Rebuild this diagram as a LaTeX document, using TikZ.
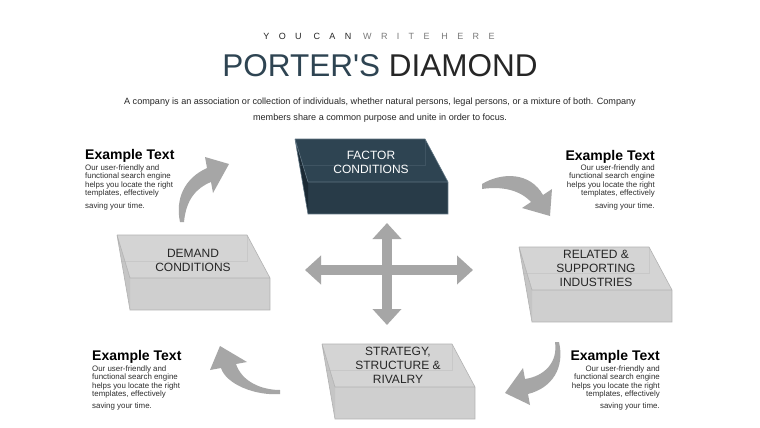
\documentclass[tikz,border=0pt]{standalone}
\usepackage{fontspec}
\setmainfont{Liberation Sans}
\newfontfamily\titlefont{Liberation Sans}
\usetikzlibrary{arrows.meta}

\definecolor{slate}{HTML}{2E4452}
\definecolor{slatefront}{HTML}{283B48}
\definecolor{slateside}{HTML}{1B2A35}
\definecolor{slateedge}{HTML}{5F7482}
\definecolor{boxtop}{HTML}{D4D4D4}
\definecolor{boxfront}{HTML}{CFCFCF}
\definecolor{boxside}{HTML}{C5C5C5}
\definecolor{boxedge}{HTML}{B2B2B2}
\definecolor{arrowgray}{HTML}{A6A6A6}
\definecolor{ink}{HTML}{262626}
\definecolor{midgray}{HTML}{7A7A7A}
\definecolor{blurbgray}{HTML}{2E2E2E}

% slab: back top corner x, y, top, front, side, edge colour
\newcommand{\slab}[6]{%
  \begin{scope}[shift={(#1,#2)}]
    \fill[#3] (0,0) -- (130,0) -- (153,43) -- (13,43) -- cycle;
    \fill[#4] (13,43) rectangle (153,75);
    \fill[#5] (0,0) -- (13,43) -- (13,75) -- cycle;
    \draw[#6, line width=0.6pt] (0,0) -- (130,0) -- (153,43) -- (153,75) -- (13,75) -- (0,0) -- (13,43) -- (153,43);
    \draw[#6, line width=0.5pt, opacity=0.35] (4,26) -- (130,26) -- (130,0);
  \end{scope}}

\begin{document}
\begin{tikzpicture}[x=1pt, y=-1pt,
  heading/.style={font=\fontsize{14}{16}\selectfont\bfseries, text=black, inner sep=0pt},
  blurb/.style={font=\fontsize{7.9}{8.4}\selectfont, text=blurbgray, inner sep=0pt},
  boxtext/.style={font=\fontsize{12}{14}\selectfont, align=center, inner sep=0pt},
  cross/.style={draw=arrowgray, line width=9.5pt,
    {Triangle[width=28pt,length=16pt]}-{Triangle[width=28pt,length=16pt]}},
  swoosh/.style={fill=arrowgray}]

\useasboundingbox[fill=white] (0,0) rectangle (760,428);

%TITLE
\node[font=\fontsize{9}{10}\selectfont\addfontfeature{LetterSpace=104}, anchor=base] (kicker) at (379,39.5)
  {\textcolor{ink}{YOU CAN} \textcolor{midgray}{WRITE HERE}};
\node[font=\titlefont\fontsize{31.5}{34}\selectfont, anchor=base, inner sep=0pt] (title) at (380,77)
  {\textcolor{slate}{PORTER'S} \textcolor{ink}{DIAMOND}};
\node[font=\fontsize{9.1}{16}\selectfont, align=center, text=ink, anchor=north, inner sep=0pt] (intro) at (380,97.8)
  {A company is an association or collection of individuals, whether natural persons, legal persons, or a mixture of both. Company\\
   members share a common purpose and unite in order to focus.};

%SLABS
\slab{295}{139}{slate}{slatefront}{slateside}{slateedge}
\slab{117}{235}{boxtop}{boxfront}{boxside}{boxedge}
\slab{519}{247}{boxtop}{boxfront}{boxside}{boxedge}
\slab{322}{344}{boxtop}{boxfront}{boxside}{boxedge}

\node[boxtext, text=white] (factor) at (371,162) {FACTOR\\CONDITIONS};
\node[boxtext, text=ink] (demand) at (193,260.5) {DEMAND\\CONDITIONS};
\node[boxtext, text=ink] (related) at (596,268) {RELATED \&\\SUPPORTING\\INDUSTRIES};
\node[boxtext, text=ink] (strategy) at (398,365) {STRATEGY,\\STRUCTURE \&\\RIVALRY};

%CROSS
\coordinate (hub) at (387,270);
\coordinate (up) at (387,223);
\coordinate (down) at (387,325);
\coordinate (west) at (305,270);
\coordinate (east) at (473,270);
\draw[cross] (west) -- (east);
\draw[cross] (up) -- (down);

%CURVED ARROWS
\fill[swoosh] (180,222) .. controls (175,198) and (185,178) .. (207,168) -- (205,157) -- (229,164)
  -- (213,193) -- (211,182) .. controls (196,188) and (186,200) .. (184,222) -- cycle;
\fill[swoosh] (482,184) .. controls (502,172) and (530,172) .. (543,195) -- (552,189) -- (550,216)
  -- (522,208) -- (531,202) .. controls (520,190) and (502,186) .. (482,189) -- cycle;
\fill[swoosh] (555,342) .. controls (558,362) and (545,376) .. (525,379) -- (523,368) -- (505,393)
  -- (530,405) -- (528,394) .. controls (552,388) and (565,368) .. (559,342) -- cycle;
\fill[swoosh] (280,390) .. controls (262,390) and (242,382) .. (236,364) -- (247,362) -- (220,346)
  -- (210,370) -- (221,368) .. controls (226,384) and (255,396) .. (280,394) -- cycle;

%TEXT BLOCKS
\node[heading, anchor=base west] (ex1) at (85,159.5) {Example Text};
\node[blurb, anchor=north west, align=left] (tx1) at (85,164.6)
  {Our user-friendly and\\functional search engine\\helps you locate the right\\templates, effectively\\[4pt]saving your time.};

\node[heading, anchor=base east] (ex2) at (655,160) {Example Text};
\node[blurb, anchor=north east, align=right] (tx2) at (655,164.6)
  {Our user-friendly and\\functional search engine\\helps you locate the right\\templates, effectively\\[4pt]saving your time.};

\node[heading, anchor=base west] (ex3) at (92,360) {Example Text};
\node[blurb, anchor=north west, align=left] (tx3) at (92,365.3)
  {Our user-friendly and\\functional search engine\\helps you locate the right\\templates, effectively\\[4pt]saving your time.};

\node[heading, anchor=base east] (ex4) at (660,360.5) {Example Text};
\node[blurb, anchor=north east, align=right] (tx4) at (660,365.3)
  {Our user-friendly and\\functional search engine\\helps you locate the right\\templates, effectively\\[4pt]saving your time.};

\end{tikzpicture}
\end{document}
